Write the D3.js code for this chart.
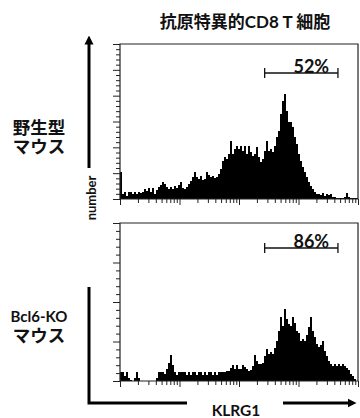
<!DOCTYPE html>
<html><head><meta charset="utf-8">
<script src="https://cdn.jsdelivr.net/npm/d3@7"></script>
<style>html,body{margin:0;padding:0;background:#fff;}svg{display:block;}</style>
</head><body>
<script>
// ---- data ----
const title = "抗原特異的CD8 T 細胞";
const rowLabels = [["野生型", "マウス"], ["Bcl6-KO", "マウス"]];
const xLabel = "KLRG1";
const yLabel = "number";
const gatePercents = ["52%", "86%"];
const gateRange = [270, 4600]; // KLRG1 intensity gate (log units)
const xDomain = [1, 10000];
// histogram counts per channel bin (119 bins across the log range)
const wildType = [27,5,7,3,7,7,5,7,5,7,6,7,10,8,11,7,11,5,9,12,14,17,15,12,10,12,10,13,11,14,
  17,11,10,12,15,18,22,27,22,20,23,19,20,27,24,22,23,21,22,25,30,38,42,40,45,58,45,50,53,50,
  53,48,53,45,53,47,43,45,52,42,37,40,48,58,48,50,47,53,62,68,85,98,105,88,77,77,72,62,55,45,
  38,32,27,22,17,13,10,7,5,5,4,6,3,5,4,5,2,2,1,1,1,1,2,6,2,1,1,1,1];
const bcl6KO = [9,9,5,9,3,1,0,3,9,3,0,0,0,0,0,0,0,0,3,9,9,9,7,12,18,26,16,9,6,9,
  9,9,9,6,9,6,9,9,6,9,9,6,9,6,9,9,6,9,6,9,9,9,9,10,10,13,16,12,16,12,
  12,16,14,12,10,11,15,26,20,17,17,18,25,32,27,29,27,33,40,50,64,55,72,62,57,55,64,58,50,48,
  40,42,40,46,54,64,50,44,37,34,36,40,30,25,20,17,15,17,15,17,15,17,15,13,11,7,5,2,0];
const series = [wildType, bcl6KO];
const countMax = [155, 158];
const minorTickCounts = [30, 20];

// ---- layout ----
const W = 360, H = 418;
const svg = d3.select("body").append("svg").attr("width", W).attr("height", H);
const latin = "Lato, 'Noto Sans CJK JP', sans-serif";

const xLeft = 120, xRight = 358;
const panels = [{top: 44, bottom: 199}, {top: 223, bottom: 381}];

const xLog = d3.scaleLog().domain(xDomain).range([xLeft, xRight]);
const nb = wildType.length;
const xBin = d3.scaleLinear().domain([0, nb]).range([xLeft, xRight]);

panels.forEach((p, k) => {
  const data = series[k];
  const y = d3.scaleLinear().domain([0, countMax[k]]).range([p.bottom, p.top]);
  const g = svg.append("g");
  // histogram
  const pts = data.map((v, i) => [i, v]);
  pts.push([nb, data[nb - 1]]);
  const area = d3.area().curve(d3.curveStepAfter)
    .x(d => xBin(d[0])).y0(y(0)).y1(d => y(d[1]));
  g.append("path").datum(pts).attr("d", area).attr("fill", "#000");

  // frame
  g.append("path")
    .attr("d", `M${xLeft},${p.bottom}V${p.top}H${xRight}V${p.bottom}H${xLeft}`)
    .attr("fill", "none").attr("stroke", "#222").attr("stroke-width", 1.2);

  // left ticks
  const yt = d3.scaleLinear().domain([0, minorTickCounts[k]]).range([p.bottom, p.top]);
  const yAxis = d3.axisLeft(yt).tickValues(d3.range(0, minorTickCounts[k] + 1))
    .tickSize(4).tickFormat("");
  const ya = g.append("g").attr("transform", `translate(${xLeft},0)`).call(yAxis);
  ya.select(".domain").remove();
  ya.selectAll(".tick line").attr("stroke", "#222").attr("stroke-width", 1)
    .attr("x2", d => d % 5 === 0 ? -7 : -4);

  // bottom log ticks
  const xt = [];
  for (let e = 0; e < 4; e++) for (let m = 1; m < 10; m++) xt.push(m * Math.pow(10, e));
  xt.push(10000);
  const xAxis = d3.axisBottom(xLog).tickValues(xt).tickSize(4).tickFormat("");
  const xa = g.append("g").attr("transform", `translate(0,${p.bottom})`).call(xAxis);
  xa.select(".domain").remove();
  xa.selectAll(".tick line").attr("stroke", "#222").attr("stroke-width", 1)
    .attr("y2", d => Math.abs(Math.log10(d) - Math.round(Math.log10(d))) < 1e-9 ? 6 : 4);

  // gate
  const gy = p.top + (k === 0 ? 29 : 25);
  const gx1 = xLog(gateRange[0]), gx2 = xLog(gateRange[1]);
  g.append("line").attr("x1", gx1).attr("x2", gx2).attr("y1", gy).attr("y2", gy)
    .attr("stroke", "#111").attr("stroke-width", 1.3);
  [gx1, gx2].forEach(xx => g.append("line").attr("x1", xx).attr("x2", xx)
    .attr("y1", gy - 5).attr("y2", gy + 5).attr("stroke", "#111").attr("stroke-width", 1.3));
  g.append("text").attr("x", (gx1 + gx2) / 2 + 10).attr("y", gy)
    .attr("text-anchor", "middle").attr("font-family", latin).attr("font-weight", "bold")
    .attr("font-size", 18).attr("fill", "#111").text(gatePercents[k]);
});

// title
svg.append("text").attr("x", 245).attr("y", 28).attr("text-anchor", "middle")
  .attr("font-family", latin).attr("font-weight", "bold").attr("font-size", 17)
  .attr("fill", "#111").text(title);

// row labels (one text element each, two lines)
const rowY = [134, 322];
rowLabels.forEach((lines, k) => {
  const t = svg.append("text").attr("text-anchor", "middle").attr("font-weight", "bold")
    .attr("font-family", latin).attr("fill", "#111");
  lines.forEach((s, j) => {
    const isLatin = /^[A-Za-z0-9\-]+$/.test(s);
    t.append("tspan").attr("x", 39).attr("y", rowY[k] + j * (k ? 20 : 19))
      .attr("font-size", isLatin ? 15 : 17.5).text(s);
  });
});

// y axis arrow + label
svg.append("defs").append("marker").attr("id", "ah").attr("viewBox", "0 0 10 10")
  .attr("refX", 5).attr("refY", 5).attr("markerWidth", 3).attr("markerHeight", 3.4)
  .attr("orient", "auto").append("path").attr("d", "M0,0L10,5L0,10Z").attr("fill", "#000");
svg.append("line").attr("x1", 89).attr("x2", 89).attr("y1", 168).attr("y2", 40)
  .attr("stroke", "#000").attr("stroke-width", 3).attr("marker-end", "url(#ah)");
svg.append("text").attr("transform", "translate(96,198) rotate(-90)").attr("text-anchor", "middle")
  .attr("font-family", latin).attr("font-weight", "bold").attr("font-size", 13)
  .attr("fill", "#111").text(yLabel);
svg.append("path").attr("d", "M89,287V403H187").attr("fill", "none")
  .attr("stroke", "#000").attr("stroke-width", 3);
svg.append("line").attr("x1", 283).attr("x2", 352).attr("y1", 403).attr("y2", 403)
  .attr("stroke", "#000").attr("stroke-width", 3).attr("marker-end", "url(#ah)");
svg.append("text").attr("x", 236).attr("y", 416).attr("text-anchor", "middle")
  .attr("font-family", latin).attr("font-weight", "bold").attr("font-size", 15.5)
  .attr("fill", "#111").text(xLabel);
</script>
</body></html>
